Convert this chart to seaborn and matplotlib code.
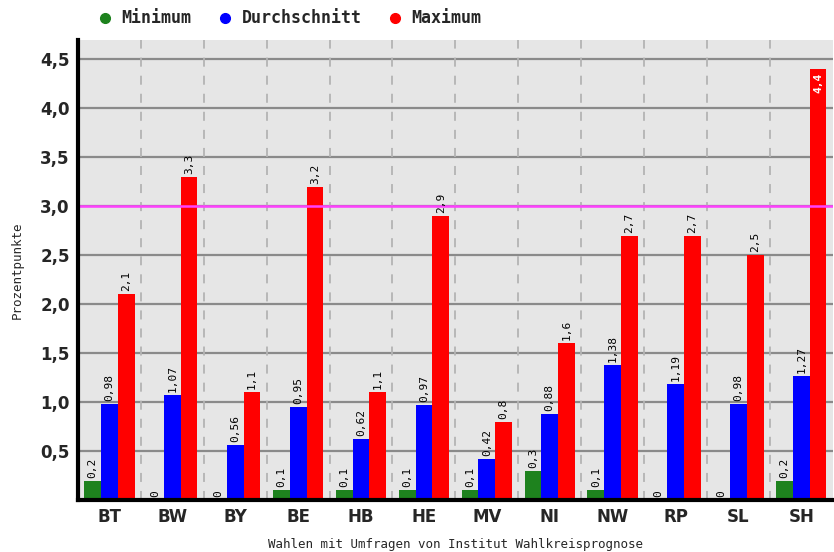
import matplotlib
matplotlib.use("Agg")
import matplotlib.pyplot as plt
from matplotlib.lines import Line2D
import seaborn as sns
import pandas as pd

# Data
laender = ["BT", "BW", "BY", "BE", "HB", "HE", "MV", "NI", "NW", "RP", "SL", "SH"]
minimum = [0.2, 0, 0, 0.1, 0.1, 0.1, 0.1, 0.3, 0.1, 0, 0, 0.2]
durchschnitt = [0.98, 1.07, 0.56, 0.95, 0.62, 0.97, 0.42, 0.88, 1.38, 1.19, 0.98, 1.27]
maximum = [2.1, 3.3, 1.1, 3.2, 1.1, 2.9, 0.8, 1.6, 2.7, 2.7, 2.5, 4.4]
series = ["Minimum", "Durchschnitt", "Maximum"]
colors = ["#1e821e", "#0000ff", "#ff0000"]
schwelle = 3.0
yticks = [0.5, 1.0, 1.5, 2.0, 2.5, 3.0, 3.5, 4.0, 4.5]

df = pd.DataFrame({"Land": laender * 3,
                   "Serie": [s for s in series for _ in laender],
                   "Wert": minimum + durchschnitt + maximum})

sns.set_theme(style="white")
mono = "DejaVu Sans Mono"

fig = plt.figure(figsize=(8.34, 5.52), dpi=100)
ax = fig.add_axes([0.0935, 0.094, 0.905, 0.834])
ax.set_facecolor("#e6e6e6")

sns.barplot(data=df, x="Land", y="Wert", hue="Serie", hue_order=series,
            palette=colors, width=0.8, saturation=1, ax=ax, legend=False,
            linewidth=0)

ax.set_xlim(-0.5, len(laender) - 0.5)
ax.set_ylim(0, 4.7)

# grid
for y in yticks:
    ax.axhline(y, color="#8a8a8a", lw=1.6, zorder=0)
for i in range(len(laender) - 1):
    ax.axvline(i + 0.5, color="#b4b4b4", lw=1.3, ls=(0, (5, 5)), zorder=0)
ax.axhline(schwelle, color="#ff40ff", lw=1.8, zorder=1)

# value labels
def fmt(v):
    return "0" if v == 0 else f"{v:g}".replace(".", ",")

for cont in ax.containers:
    for bar in cont:
        v = bar.get_height()
        xc = bar.get_x() + bar.get_width() / 2
        if v > 4.2:
            ax.text(xc, v - 0.04, fmt(v), rotation=90, ha="center", va="top",
                    fontsize=8, family=mono, color="white", fontweight="bold")
        else:
            ax.text(xc, v + 0.03, fmt(v), rotation=90, ha="center", va="bottom",
                    fontsize=8, family=mono, color="black")

ax.set_yticks(yticks)
ax.set_yticklabels([f"{y:.1f}".replace(".", ",") for y in yticks],
                   fontsize=12, fontweight="bold")
ax.set_xticks(range(len(laender)))
ax.set_xticklabels(laender, fontsize=12, fontweight="bold")
ax.tick_params(axis="both", length=0, pad=6)

for s in ["top", "right"]:
    ax.spines[s].set_visible(False)
ax.spines["left"].set_linewidth(3)
ax.spines["bottom"].set_linewidth(3)
ax.spines["left"].set_color("black")
ax.spines["bottom"].set_color("black")

ax.set_xlabel("Wahlen mit Umfragen von Institut Wahlkreisprognose",
              family=mono, fontsize=9, labelpad=8)
ax.set_ylabel("Prozentpunkte", family=mono, fontsize=9, labelpad=12)

handles = [Line2D([], [], marker="o", ls="", color=c, markersize=7) for c in colors]
leg = fig.legend(handles, series, loc="upper left", bbox_to_anchor=(0.088, 1.01),
                 ncol=3, frameon=False, handletextpad=0.0, columnspacing=1.0,
                 prop={"family": mono, "weight": "bold", "size": 12})

fig.savefig("out.png", dpi=100)
